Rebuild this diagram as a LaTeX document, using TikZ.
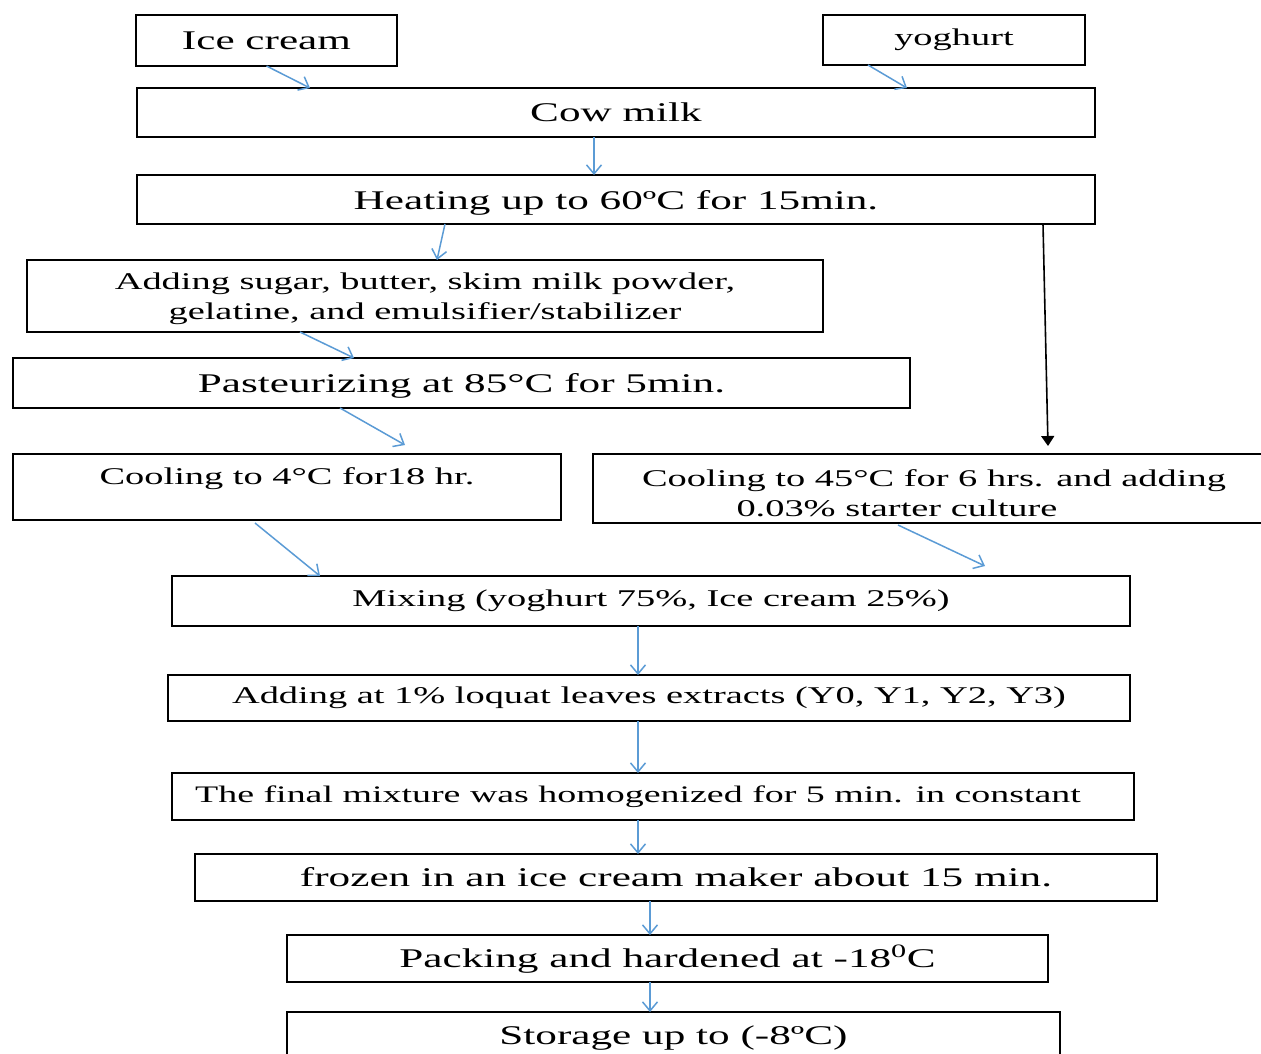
\documentclass[tikz,border=0pt]{standalone}
\usepackage{fontspec}
\setmainfont{Liberation Serif}[FakeStretch=1.6]
\usetikzlibrary{arrows.meta,positioning}
\definecolor{flowblue}{RGB}{91,155,213}
\tikzset{stage/.style={draw,line width=1.6pt,inner sep=0pt,outer sep=0pt,align=center,font=\fontsize{24pt}{30.5pt}\selectfont},
big/.style={font=\fontsize{27pt}{32pt}\selectfont},
flow/.style={draw=flowblue,line width=1.5pt,-{Straight Barb[length=9pt,width=15pt]}},
branch/.style={draw=black,line width=1.6pt,-{Triangle[length=10pt,width=13pt]}}}
\begin{document}
\begin{tikzpicture}[x=1pt,y=-1pt]
	\useasboundingbox (0,0) rectangle (1261,1053);
	\node[stage,big,minimum width=261pt,minimum height=51pt](ice) at(266.5,40.5){Ice cream};
	\node[stage,minimum width=262pt,minimum height=50pt](yog) at(954,40){yoghurt};
	\node[stage,big,minimum width=958pt,minimum height=49pt](cow) at(616,112.5){Cow milk};
	\node[stage,big,minimum width=958pt,minimum height=49pt,text height=19pt,text depth=0pt](heat) at(616,199.5){Heating up to 60ºC for 15min.};
	\node[stage,minimum width=796pt,minimum height=72pt,text depth=0pt](sugar) at(425,296){Adding sugar, butter, skim milk powder,\\gelatine, and emulsifier/stabilizer};
	\node[stage,big,minimum width=897pt,minimum height=50pt,text height=19pt,text depth=0pt](past) at(461.5,383){Pasteurizing at 85°C for 5min.};
	\node[stage,minimum width=548pt,minimum height=66pt,text height=17pt,text depth=22pt](cool4) at(287,487){Cooling to 4°C for18 hr.};
	\node[stage,minimum width=682pt,minimum height=69pt,text height=56pt,text depth=0pt](cool45) at(934,488.5){Cooling to 45°C for 6 hrs. and adding\\0.03\% starter culture\hspace*{74pt}};
	\node[stage,minimum width=958pt,minimum height=50pt](mix) at(651,601){Mixing (yoghurt 75\%, Ice cream 25\%)};
	\node[stage,minimum width=962pt,minimum height=46pt](add) at(649,698){Adding at 1\% loquat leaves extracts (Y0, Y1, Y2, Y3)};
	\node[stage,minimum width=962pt,minimum height=47pt,font=\fontsize{23.7pt}{29pt}\selectfont](final) at(653,796.5){The final mixture was homogenized for 5 min. in constant\hspace*{30pt}};
	\node[stage,big,minimum width=962pt,minimum height=47pt](frozen) at(676,877.5){frozen in an ice cream maker about 15 min.};
	\node[stage,big,minimum width=761pt,minimum height=47pt,text height=19pt,text depth=2pt](pack) at(667.5,958.5){Packing and hardened at -18\textsuperscript{0}C};
	\node[stage,big,minimum width=773pt,minimum height=60pt,text height=19pt,text depth=14pt](store) at(673.5,1042){Storage up to (-8ºC)};
	% blue connectors: from, x/y shift, to, x/y shift
	\foreach \a/\xa/\ya/\b/\xb/\yb in {
			ice/0/0/cow/-306/0,
			yog/-86/0/cow/291/0,
			cow/-22/0/heat/-22/0,
			heat/-171/0/sugar/12/0,
			sugar/-125/0/past/-107.5/0,
			past/-121.5/0/cool4/118/9,
			cool4/-32/-3/mix/-331/0,
			cool45/-36/-2/mix/334/10,
			mix/-13/0/add/-11/0,
			add/-11/0/final/-15/0,
			final/-15/0/frozen/-38/0,
			frozen/-26/0/pack/-17.5/0,
			pack/-17.5/0/store/-23.5/0}
	\draw[flow] ([xshift=\xa pt,yshift=\ya pt]\a.south) -- ([xshift=\xb pt,yshift=\yb pt]\b.north);
	\draw[branch] ([xshift=427pt]heat.south) -- ([xshift=114pt,yshift=8pt]cool45.north);
\end{tikzpicture}
\end{document}
